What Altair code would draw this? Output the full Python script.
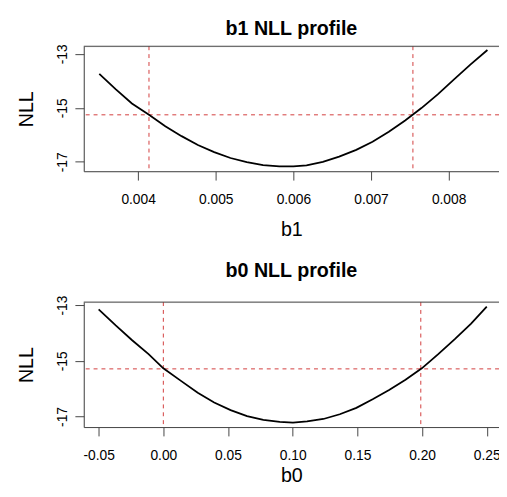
import altair as alt
import pandas as pd

# ---- data ----
b1_values = [0.0035, 0.00371, 0.00392, 0.00414, 0.00435, 0.00456, 0.00477, 0.00498,
             0.00519, 0.00540, 0.00561, 0.00582, 0.00600, 0.00617, 0.00638, 0.00659,
             0.00681, 0.00702, 0.00723, 0.00744, 0.00765, 0.00786, 0.00807, 0.00828, 0.0085]
b1_nll = [-13.74, -14.31, -14.84, -15.26, -15.68, -16.05, -16.38, -16.64,
          -16.86, -17.01, -17.12, -17.17, -17.17, -17.13, -17.00, -16.81,
          -16.56, -16.26, -15.89, -15.47, -15.01, -14.50, -13.95, -13.40, -12.86]

b0_values = [-0.05, -0.0368, -0.0241, -0.0114, 0.0, 0.0139, 0.0266, 0.0393,
             0.0520, 0.0647, 0.0773, 0.0900, 0.1002, 0.1111, 0.1237, 0.1364,
             0.1492, 0.1618, 0.1745, 0.1872, 0.1998, 0.2125, 0.2253, 0.2379, 0.25]
b0_nll = [-13.15, -13.73, -14.26, -14.76, -15.27, -15.73, -16.15, -16.50,
          -16.77, -16.99, -17.12, -17.19, -17.22, -17.18, -17.09, -16.92,
          -16.69, -16.38, -16.05, -15.68, -15.27, -14.76, -14.22, -13.66, -13.05]

b1_ci = [0.00414, 0.00754]
b0_ci = [0.0, 0.199]
b1_cut = [-15.26]
b0_cut = [-15.29]

b1_ticks = [0.004, 0.005, 0.006, 0.007, 0.008]
b0_ticks = [-0.05, 0.0, 0.05, 0.10, 0.15, 0.20, 0.25]
nll_ticks = [-17, -16, -15, -14, -13]

FONT = "Liberation Sans"
W, H = 422, 127
AX = "#444444"
RED = "#d23c3c"
MINUS = "\u2212"


def panel(xv, yv, ci, cut, xname, title, xdom, ydom, xticks, xfmt, title_offset, xtitle_y):
    curve_df = pd.DataFrame({"x": xv, "y": yv})
    ci_df = pd.DataFrame({"x": ci})
    cut_df = pd.DataFrame({"y": cut})

    xscale = alt.Scale(domain=xdom, nice=False, zero=False)
    yscale = alt.Scale(domain=ydom, nice=False, zero=False)

    xaxis = alt.Axis(
        values=xticks, format=xfmt,
        labelExpr=f"replace(datum.label, '{MINUS}', '-')",
        tickSize=9, tickColor=AX, domain=True, domainColor=AX, domainWidth=1, grid=False,
        labelPadding=23.7, labelBaseline="alphabetic", labelAlign="center",
        labelFontSize=14, labelFont=FONT, labelColor="black", labelOverlap=False,
        labelFlush=False,
        title=xname, titleFontSize=20, titleFont=FONT, titleFontWeight="normal",
        titleColor="black", titleY=xtitle_y, titleBaseline="alphabetic",
    )
    yaxis = alt.Axis(
        values=nll_ticks,
        labelExpr=f"datum.value % 2 == 0 ? '' : replace(datum.label, '{MINUS}', '-')",
        tickSize=9, tickColor=AX, domain=True, domainColor=AX, domainWidth=1, grid=False,
        labelAngle=270, labelAlign="center", labelBaseline="alphabetic",
        labelPadding=9, labelFontSize=14, labelFont=FONT, labelColor="black",
        labelOverlap=False, labelFlush=False,
        title="NLL", titleFontSize=20, titleFont=FONT, titleFontWeight="normal",
        titleColor="black", titleAngle=270, titleX=-52, titleY=H / 2,
        titleAlign="center", titleBaseline="alphabetic",
    )

    line = alt.Chart(curve_df).mark_line(color="black", strokeWidth=1.8).encode(
        x=alt.X("x:Q", scale=xscale, axis=xaxis),
        y=alt.Y("y:Q", scale=yscale, axis=yaxis),
        order="x:Q",
    )
    vrules = alt.Chart(ci_df).mark_rule(color=RED, strokeWidth=1, strokeDash=[4, 4]).encode(
        x=alt.X("x:Q", scale=xscale)
    )
    hrule = alt.Chart(cut_df).mark_rule(color=RED, strokeWidth=1, strokeDash=[4, 4]).encode(
        y=alt.Y("y:Q", scale=yscale)
    )
    # top edge of the plot box (right edge lies outside the picture)
    top_edge = alt.Chart(cut_df).mark_rule(color=AX, strokeWidth=1).encode(
        y=alt.value(0)
    )
    return alt.layer(vrules, hrule, line, top_edge).properties(
        width=W, height=H,
        title=alt.TitleParams(
            text=title, fontSize=20, font=FONT, fontWeight="bold", color="black",
            offset=title_offset, baseline="alphabetic", anchor="middle",
        ),
    )


top = panel(b1_values, b1_nll, b1_ci, b1_cut, "b1", "b1 NLL profile",
            [0.0033, 0.008649], [-17.35, -12.72], b1_ticks, ".3f", -11, 65)
bottom = panel(b0_values, b0_nll, b0_ci, b0_cut, "b0", "b0 NLL profile",
               [-0.0615, 0.25946], [-17.38, -12.89], b0_ticks, ".2f", -1, 55)

chart = alt.vconcat(top, bottom, spacing=133, bounds="flush").properties(
    autosize=alt.AutoSizeParams(type="none"),
    padding={"left": 77, "top": 35, "right": 0, "bottom": 442},
).configure_view(stroke=None).configure(background="white")

chart.save("out.html", embed_options={"renderer": "svg", "actions": False})
